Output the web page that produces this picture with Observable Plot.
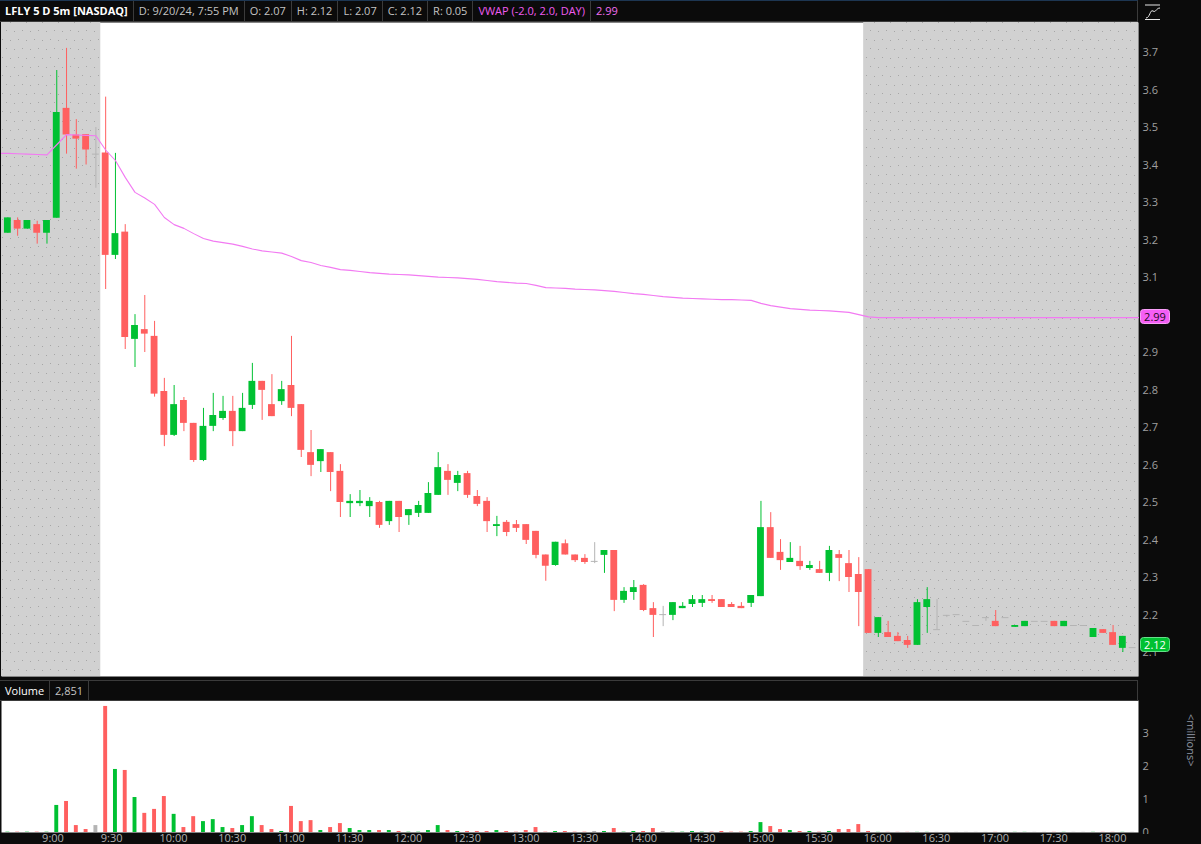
<!DOCTYPE html>
<html>
<head>
<meta charset="utf-8">
<script src="https://cdn.jsdelivr.net/npm/d3@7"></script>
<script src="https://cdn.jsdelivr.net/npm/@observablehq/plot@0.6"></script>
<style>
  html, body { margin: 0; padding: 0; background: #0b0b0b; overflow: hidden; }
  #wrap { position: relative; width: 1201px; height: 844px; font-family: "Open Sans", "Noto Sans", sans-serif; }
  .panel { position: absolute; left: 0; }
  .bar { position: absolute; left: 0; width: 1138px; display: flex; box-sizing: border-box; background: #0b0b0b; border: 1px solid #3b3b3b; border-left: none; font-size: 11px; }
  .cell { box-sizing: border-box; padding: 0 5px; border-right: 1px solid #3b3b3b; color: #c4c4c4; white-space: nowrap; overflow: hidden; }
  .cell.title { color: #ffffff; font-weight: bold; }
  .cell.vw { color: #f05cf0; }
  .cell.vv { color: #f06ef0; border-right: none; }
  #icon { position: absolute; left: 1144px; top: 3px; }
  #axcover { position: absolute; left: 1138px; top: 834px; width: 63px; height: 10px; background: #0b0b0b; }
</style>
</head>
<body>
<div id="wrap">
  <div id="price" class="panel" style="top:0"></div>
  <div id="volume" class="panel" style="top:680px"></div>
  <div id="hdr" class="bar" style="top:0;height:22px;line-height:20px;border-top:1px solid #1d3652;"></div>
  <div id="vhdr" class="bar" style="top:680px;height:21px;line-height:19px;"></div>
  <div id="axcover"></div>
  <svg id="icon" width="18" height="18" viewBox="0 0 18 18">
    <line x1="1" y1="2" x2="16" y2="2" stroke="#e6e6e6" stroke-width="1"/>
    <path d="M2,15 C6,15 6,6 9,8 C12,10 12,5 16,5" fill="none" stroke="#e6e6e6" stroke-width="1"/>
    <line x1="1" y1="16.5" x2="16" y2="16.5" stroke="#e6e6e6" stroke-width="1"/>
  </svg>
</div>
<script>
// ---------------- DATA ----------------
// Bar index: 0 = 9:30 bar, 5-minute bars; first bar is index -10.
const firstIndex = -10;
const opens = [
  3.218,3.252,3.229,3.241,3.218,3.258,3.551,3.480,3.481,3.429,
  3.432,3.159,3.221,2.935,2.961,2.943,2.796,2.679,2.772,2.711,
  2.612,2.703,2.724,2.743,2.689,2.759,2.823,2.761,2.769,2.812,
  2.761,2.633,2.609,2.633,2.583,2.497,2.497,2.489,2.500,2.449,
  2.503,2.465,2.471,2.471,2.519,2.583,2.551,2.577,2.516,2.503,
  2.436,2.447,2.441,2.441,2.423,2.360,2.332,2.390,2.360,2.351,
  2.343,2.359,2.372,2.239,2.260,2.279,2.217,2.201,2.199,2.217,
  2.228,2.231,2.241,2.241,2.228,2.223,2.231,2.249,2.433,2.367,
  2.340,2.343,2.324,2.321,2.311,2.361,2.337,2.308,2.321,2.151,
  2.153,2.143,2.132,2.119,2.220,2.161,2.199,2.201,2.183,2.172,
  2.193,2.183,2.193,2.167,2.169,2.183,2.183,2.183,2.169,2.172,
  2.172,2.140,2.161,2.153,2.111,2.113
];
const highs = [
  3.259,3.259,3.252,3.250,3.252,3.652,3.711,3.521,3.481,3.500,
  3.581,3.431,3.241,3.001,3.052,2.983,2.831,2.812,2.780,2.711,
  2.751,2.791,2.783,2.783,2.791,2.871,2.823,2.841,2.823,2.943,
  2.761,2.692,2.641,2.633,2.601,2.521,2.532,2.513,2.503,2.503,
  2.503,2.481,2.503,2.553,2.633,2.601,2.583,2.583,2.532,2.513,
  2.463,2.452,2.452,2.441,2.423,2.360,2.394,2.400,2.360,2.361,
  2.393,2.372,2.372,2.273,2.292,2.281,2.233,2.223,2.233,2.233,
  2.252,2.252,2.252,2.241,2.233,2.233,2.252,2.503,2.473,2.401,
  2.393,2.383,2.343,2.343,2.383,2.372,2.372,2.353,2.321,2.193,
  2.183,2.153,2.143,2.241,2.273,2.241,2.199,2.201,2.183,2.172,
  2.193,2.212,2.193,2.172,2.183,2.183,2.183,2.183,2.183,2.172,
  2.172,2.164,2.161,2.172,2.143,2.113
];
const lows = [
  3.218,3.210,3.229,3.189,3.189,3.258,3.429,3.389,3.400,3.338,
  3.068,3.148,2.908,2.860,2.900,2.781,2.649,2.676,2.689,2.607,
  2.609,2.689,2.719,2.649,2.689,2.748,2.719,2.729,2.759,2.729,
  2.620,2.569,2.580,2.529,2.460,2.460,2.489,2.460,2.431,2.439,
  2.420,2.439,2.460,2.471,2.519,2.519,2.529,2.511,2.489,2.420,
  2.409,2.409,2.420,2.388,2.350,2.290,2.330,2.360,2.340,2.335,
  2.337,2.311,2.209,2.231,2.239,2.209,2.140,2.169,2.185,2.217,
  2.220,2.220,2.231,2.220,2.220,2.217,2.220,2.249,2.351,2.319,
  2.340,2.319,2.319,2.311,2.289,2.289,2.260,2.169,2.151,2.140,
  2.140,2.129,2.111,2.119,2.151,2.161,2.193,2.201,2.183,2.172,
  2.183,2.169,2.193,2.167,2.169,2.183,2.183,2.169,2.169,2.172,
  2.172,2.140,2.151,2.119,2.100,2.113
];
const closes = [
  3.259,3.229,3.252,3.218,3.252,3.540,3.480,3.469,3.440,3.429,
  3.159,3.217,2.940,2.972,2.949,2.789,2.679,2.761,2.711,2.612,
  2.703,2.732,2.743,2.689,2.751,2.823,2.799,2.729,2.801,2.751,
  2.639,2.599,2.641,2.580,2.500,2.503,2.503,2.503,2.439,2.503,
  2.460,2.481,2.492,2.524,2.593,2.559,2.572,2.519,2.495,2.449,
  2.441,2.420,2.431,2.399,2.359,2.330,2.394,2.360,2.345,2.340,
  2.343,2.372,2.239,2.263,2.273,2.212,2.199,2.201,2.233,2.223,
  2.241,2.241,2.236,2.220,2.220,2.217,2.252,2.433,2.351,2.345,
  2.351,2.329,2.332,2.311,2.372,2.351,2.300,2.260,2.151,2.193,
  2.140,2.129,2.119,2.233,2.241,2.161,2.199,2.201,2.183,2.172,
  2.193,2.169,2.193,2.172,2.183,2.183,2.183,2.169,2.183,2.172,
  2.172,2.164,2.151,2.119,2.143,2.113
];
// volume in millions
const volumes = [
  0.01,0.01,0.01,0.01,0.01,0.82,0.94,0.21,0.09,0.21,
  3.82,1.91,1.88,1.06,0.58,0.70,1.09,0.55,0.15,0.48,
  0.33,0.39,0.15,0.12,0.21,0.48,0.21,0.09,0.03,0.79,
  0.33,0.36,0.06,0.15,0.27,0.12,0.06,0.06,0.06,0.06,
  0.03,0.01,0.01,0.06,0.21,0.06,0.03,0.03,0.03,0.03,
  0.06,0.03,0.01,0.06,0.15,0.01,0.03,0.03,0.01,0.01,
  0.03,0.03,0.12,0.01,0.03,0.03,0.12,0.03,0.01,0.01,
  0.03,0.01,0.01,0.03,0.01,0.01,0.03,0.30,0.18,0.09,
  0.06,0.03,0.03,0.01,0.03,0.09,0.09,0.24,0.03,0.005,
  0.005,0.005,0.005,0.005,0.005,0.005,0.005,0.005,0.005,0.005,
  0.005,0.005,0.005,0.005,0.005,0.005,0.005,0.005,0.005,0.005,
  0.005,0.005,0.005,0.005,0.005,0.005
];
const vwapValues = [
  3.431,3.430,3.429,3.428,3.427,3.454,3.481,3.480,3.479,3.478,
  3.440,3.412,3.367,3.327,3.312,3.295,3.260,3.241,3.231,3.217,
  3.204,3.197,3.193,3.189,3.183,3.176,3.171,3.168,3.165,3.156,
  3.145,3.140,3.132,3.127,3.121,3.119,3.116,3.113,3.111,3.109,
  3.108,3.107,3.105,3.103,3.101,3.100,3.099,3.097,3.095,3.092,
  3.089,3.087,3.085,3.084,3.079,3.073,3.072,3.071,3.069,3.068,
  3.067,3.065,3.063,3.060,3.057,3.055,3.052,3.049,3.047,3.045,
  3.044,3.043,3.042,3.041,3.041,3.040,3.039,3.031,3.025,3.021,
  3.017,3.015,3.013,3.012,3.011,3.009,3.007,3.001,2.995,2.993,
  2.993,2.993,2.993,2.993,2.993,2.993,2.993,2.993,2.993,2.993,
  2.993,2.993,2.993,2.993,2.993,2.993,2.993,2.993,2.993,2.993,
  2.993,2.993,2.993,2.993,2.993,2.993
];
const lastPrice = 2.12;
const regularOpenIndex = 0;     // 9:30
const regularCloseIndex = 78;   // 16:00
const priceTicks = [2.1,2.2,2.3,2.4,2.5,2.6,2.7,2.8,2.9,3.1,3.2,3.3,3.4,3.5,3.6,3.7];
const volumeTicks = [0,1,2,3];
const timeLabels = ["9:00","9:30","10:00","10:30","11:00","11:30","12:00","12:30","13:00","13:30","14:00","14:30","15:00","15:30","16:00","16:30","17:00","17:30","18:00"];
const headerFields = ["LFLY 5 D 5m [NASDAQ]","D: 9/20/24, 7:55 PM","O: 2.07","H: 2.12","L: 2.07","C: 2.12","R: 0.05","VWAP (-2.0, 2.0, DAY)","2.99"];
const volumeHeader = ["Volume","2,851"];

// ---------------- BUILD ----------------
const GREEN = "#00c132", RED = "#ff5f5f", GRAY = "#b4b4b4";
const bars = opens.map((o, k) => ({
  i: firstIndex + k, open: o, high: highs[k], low: lows[k], close: closes[k], vol: volumes[k]
}));
const colorOf = d => d.close > d.open ? GREEN : d.close < d.open ? RED : GRAY;
const lastIndex = firstIndex + bars.length - 1;
const xMin = firstIndex - 0.65, xMax = lastIndex + 0.6;
const vwap = [{i: xMin, v: vwapValues[0]}]
  .concat(vwapValues.map((v, k) => ({i: firstIndex + k, v})))
  .concat([{i: xMax, v: vwapValues[vwapValues.length - 1]}]);
const sessions = [{start: xMin, end: regularOpenIndex - 0.5}, {start: regularCloseIndex - 0.5, end: xMax}];
const toIdx = s => { const [h, m] = s.split(":").map(Number); return (h * 60 + m - 570) / 5 - 0.5; };
const timePos = timeLabels.map(toIdx);
const labelAt = new Map(timeLabels.map((s, k) => [timePos[k], s]));

const W = 1201, ML = 1, MR = 63;
const baseStyle = {background: "transparent", color: "#a4a4a4", fontFamily: "Open Sans, Noto Sans, sans-serif", fontSize: "11px", overflow: "visible"};

const dotsDefs = () => {
  const defs = d3.create("svg:defs");
  const p = defs.append("pattern").attr("id", "dots").attr("patternUnits", "userSpaceOnUse").attr("width", 16).attr("height", 18);
  p.append("rect").attr("width", 16).attr("height", 18).attr("fill", "#d1d1d1");
  [[2, 3], [10, 4], [6, 12], [14, 13]].forEach(([x, y]) =>
    p.append("rect").attr("x", x).attr("y", y).attr("width", 1).attr("height", 1).attr("fill", "#a6a6a6"));
  return defs.node();
};
const badge = (value, label, fill, stroke, textColor) => (index, scales, values, dims) => {
  const y = Math.round(scales.y(value));
  const x = dims.width - dims.marginRight + 2;
  const g = d3.create("svg:g");
  g.append("rect").attr("x", x + 0.5).attr("y", y - 7.5).attr("width", 29).attr("height", 14)
    .attr("rx", 3).attr("fill", fill).attr("stroke", stroke);
  g.append("text").attr("x", x + 15).attr("y", y).attr("dy", "0.36em").attr("text-anchor", "middle")
    .attr("fill", textColor).attr("font-size", 11).text(label);
  return g.node();
};

const pricePlot = Plot.plot({
  width: W, height: 680,
  marginTop: 22, marginBottom: 4, marginLeft: ML, marginRight: MR,
  style: baseStyle,
  x: {domain: [xMin, xMax], axis: null},
  y: {domain: [2.036, 3.78], axis: null},
  marks: [
    dotsDefs,
    Plot.frame({fill: "#ffffff", stroke: "none"}),
    Plot.rect(sessions, {x1: "start", x2: "end", fill: "url(#dots)"}),
    Plot.ruleX(bars.filter(d => d.high > d.low), {x: "i", y1: "low", y2: "high", stroke: colorOf, strokeWidth: 1}),
    Plot.rect(bars.filter(d => d.open !== d.close), {x1: d => d.i - 0.35, x2: d => d.i + 0.35, y1: "open", y2: "close", fill: colorOf}),
    Plot.ruleY(bars.filter(d => d.open === d.close), {y: "open", x1: d => d.i - 0.35, x2: d => d.i + 0.35, stroke: GRAY, strokeWidth: 1}),
    Plot.line(vwap, {x: "i", y: "v", stroke: "#f27af2", strokeWidth: 1.1}),
    Plot.axisY(priceTicks, {anchor: "right", tickSize: 0, tickPadding: 4, textAnchor: "start", tickFormat: d3.format(".1f"), fill: "#a0a0a0", label: null}),
    badge(vwapValues[vwapValues.length - 1], d3.format(".2f")(vwapValues[vwapValues.length - 1]), "#f55ef5", "#f9a0f9", "#1a0a1a"),
    badge(lastPrice, d3.format(".2f")(lastPrice), "#00c132", "#66e08a", "#ffffff")
  ]
});
document.getElementById("price").appendChild(pricePlot);

const volumePlot = Plot.plot({
  width: W, height: 164,
  marginTop: 20, marginBottom: 12, marginLeft: ML, marginRight: MR,
  style: baseStyle,
  x: {domain: [xMin, xMax], axis: null},
  y: {domain: [0, 4], axis: null},
  marks: [
    Plot.frame({fill: "#ffffff", stroke: "none"}),
    Plot.rectY(bars, {x1: d => d.i - 0.2, x2: d => d.i + 0.2, y: "vol", fill: colorOf}),
    Plot.axisY(volumeTicks, {anchor: "right", tickSize: 0, tickPadding: 4, textAnchor: "start", fill: "#a0a0a0", label: null}),
    Plot.axisX(timePos, {anchor: "bottom", tickSize: 0, tickPadding: 2, textAnchor: "start", tickFormat: d => labelAt.get(d), fill: "#b0b0b0", label: null}),
    Plot.text(["<millions>"], {frameAnchor: "right", text: d => d, rotate: 90, dx: 52, fill: "#8f96a3"})
  ]
});
document.getElementById("volume").appendChild(volumePlot);

const hdr = document.getElementById("hdr");
headerFields.forEach((t, k) => {
  const c = document.createElement("div");
  c.className = "cell" + (k === 0 ? " title" : k === 7 ? " vw" : k === 8 ? " vv" : "");
  c.textContent = t;
  hdr.appendChild(c);
});
const vh = document.getElementById("vhdr");
volumeHeader.forEach((t, k) => {
  const c = document.createElement("div");
  c.className = "cell" + (k === 0 ? " title" : "");
  if (k === 0) c.style.fontWeight = "normal";
  c.textContent = t;
  vh.appendChild(c);
});
</script>
</body>
</html>
